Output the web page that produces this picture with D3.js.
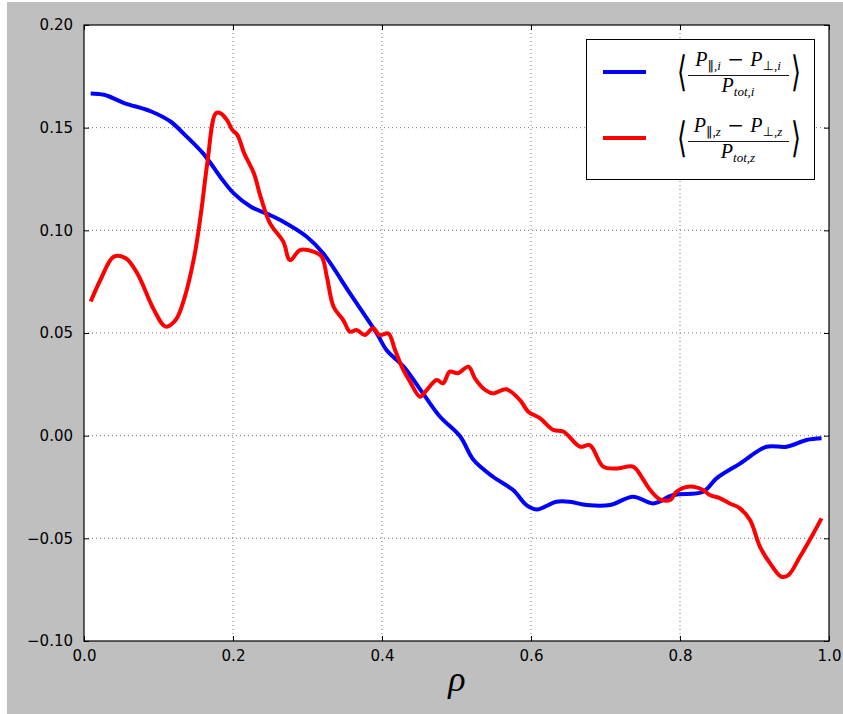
<!DOCTYPE html>
<html>
<head>
<meta charset="utf-8">
<script src="https://cdn.jsdelivr.net/npm/d3@7"></script>
<style>
  html, body { margin: 0; padding: 0; background: #ffffff; }
  svg { display: block; }
</style>
</head>
<body>
<div id="chart"></div>
<script>
// ion curve: <(P_par,i - P_perp,i) / P_tot,i>
const rhoIon = [0.009, 0.027, 0.054, 0.0895, 0.116, 0.134, 0.161, 0.183, 0.201, 0.224, 0.246,
  0.2675, 0.299, 0.321, 0.357, 0.393, 0.406, 0.429, 0.455, 0.478, 0.505, 0.523, 0.549,
  0.576, 0.594, 0.608, 0.634, 0.652, 0.675, 0.706, 0.737, 0.764, 0.791, 0.831, 0.849,
  0.881, 0.916, 0.943, 0.970, 0.990];
const valIon = [0.1667, 0.166, 0.162, 0.158, 0.153, 0.147, 0.137, 0.126, 0.118, 0.1115, 0.108,
  0.1042, 0.0969, 0.0888, 0.0693, 0.0498, 0.0417, 0.0336, 0.0206, 0.0092, -0.0004, -0.0119, -0.020,
  -0.0265, -0.0338, -0.0359, -0.0322, -0.0322, -0.0338, -0.0338, -0.0297, -0.033, -0.0289, -0.0273, -0.0208,
  -0.0135, -0.0054, -0.0054, -0.0021, -0.0013];

// impurity curve: <(P_par,z - P_perp,z) / P_tot,z>
const rhoImp = [0.009, 0.022, 0.040, 0.056, 0.0716, 0.094, 0.1096, 0.123, 0.134, 0.148, 0.157,
  0.1655, 0.177, 0.1835, 0.192, 0.199, 0.206, 0.215, 0.228, 0.237, 0.2497, 0.2675, 0.2765,
  0.290, 0.308, 0.319, 0.326, 0.335, 0.348, 0.357, 0.366, 0.377, 0.388, 0.397, 0.4085,
  0.4175, 0.4286, 0.4376, 0.451, 0.460, 0.4734, 0.482, 0.491, 0.502, 0.516, 0.5248, 0.536,
  0.549, 0.567, 0.585, 0.5964, 0.612, 0.630, 0.6434, 0.666, 0.679, 0.697, 0.715, 0.737,
  0.751, 0.760, 0.773, 0.787, 0.7955, 0.8134, 0.831, 0.840, 0.854, 0.867, 0.8805, 0.894,
  0.9074, 0.921, 0.936, 0.9455, 0.961, 0.979, 0.990];
const valImp = [0.0653, 0.0758, 0.0872, 0.0864, 0.079, 0.0612, 0.0531, 0.0563, 0.066, 0.0872, 0.1083,
  0.1326, 0.157, 0.157, 0.1537, 0.1489, 0.1464, 0.1375, 0.1278, 0.1164, 0.1034, 0.0945, 0.0855,
  0.0904, 0.0896, 0.0872, 0.0774, 0.0628, 0.0563, 0.0506, 0.0515, 0.049, 0.0523, 0.049, 0.0498,
  0.0417, 0.032, 0.0263, 0.019, 0.0222, 0.0271, 0.0255, 0.0312, 0.0304, 0.0336, 0.0279, 0.023,
  0.0206, 0.0226, 0.0174, 0.0117, 0.0085, 0.0028, 0.002, -0.0054, -0.0046, -0.0151, -0.016, -0.0151,
  -0.0216, -0.0265, -0.031, -0.0313, -0.0273, -0.0248, -0.0265, -0.0289, -0.0305, -0.033, -0.0354, -0.0411,
  -0.0541, -0.0622, -0.0687, -0.0679, -0.0590, -0.0476, -0.0403];

const xTicks = [0.0, 0.2, 0.4, 0.6, 0.8, 1.0];
const yTicks = [-0.10, -0.05, 0.00, 0.05, 0.10, 0.15, 0.20];

const W = 843, H = 714;
const margin = {left: 84, right: 14, top: 25, bottom: 73};

const svg = d3.select('#chart').append('svg')
    .attr('width', W)
    .attr('height', H);

// figure background (matplotlib classic grey)
svg.append('rect')
    .attr('x', 7).attr('y', 2)
    .attr('width', W - 7).attr('height', H - 2)
    .attr('fill', '#bfbfbf');

const x = d3.scaleLinear().domain([0, 1]).range([margin.left, W - margin.right]);
const y = d3.scaleLinear().domain([-0.10, 0.20]).range([H - margin.bottom, margin.top]);

svg.append('rect')
    .attr('x', x(0)).attr('y', y(0.20))
    .attr('width', x(1) - x(0)).attr('height', y(-0.10) - y(0.20))
    .attr('fill', '#ffffff');

// grid
const grid = svg.append('g').attr('class', 'grid');
grid.selectAll('line.gx')
    .data(xTicks.slice(1, -1))
    .enter().append('line')
    .attr('x1', d => x(d)).attr('x2', d => x(d))
    .attr('y1', y(0.20)).attr('y2', y(-0.10))
    .attr('stroke', '#555').attr('stroke-width', 0.8)
    .attr('stroke-dasharray', '1,3');
grid.selectAll('line.gy')
    .data(yTicks.slice(1, -1))
    .enter().append('line')
    .attr('y1', d => y(d)).attr('y2', d => y(d))
    .attr('x1', x(0)).attr('x2', x(1))
    .attr('stroke', '#555').attr('stroke-width', 0.8)
    .attr('stroke-dasharray', '1,3');

// lines
const line = d3.line()
    .x(d => x(d[0]))
    .y(d => y(d[1]))
    .curve(d3.curveCatmullRom.alpha(0.5));

svg.append('path')
    .attr('d', line(d3.zip(rhoIon, valIon)))
    .attr('fill', 'none')
    .attr('stroke', '#0000ff')
    .attr('stroke-width', 4)
    .attr('stroke-linejoin', 'round');

svg.append('path')
    .attr('d', line(d3.zip(rhoImp, valImp)))
    .attr('fill', 'none')
    .attr('stroke', '#ff0000')
    .attr('stroke-width', 4)
    .attr('stroke-linejoin', 'round');

// axes: ticks inside, on all four sides
const fmtY = d => d3.format('.2f')(d).replace('-', '\u2212');
const fmtX = d3.format('.1f');

const axB = svg.append('g')
    .attr('transform', 'translate(0,' + y(-0.10) + ')')
    .call(d3.axisBottom(x).tickValues(xTicks).tickFormat(fmtX).tickSizeInner(-5).tickSizeOuter(0).tickPadding(9));
const axT = svg.append('g')
    .attr('transform', 'translate(0,' + y(0.20) + ')')
    .call(d3.axisTop(x).tickValues(xTicks).tickFormat('').tickSizeInner(-5).tickSizeOuter(0));
const axL = svg.append('g')
    .attr('transform', 'translate(' + x(0) + ',0)')
    .call(d3.axisLeft(y).tickValues(yTicks).tickFormat(fmtY).tickSizeInner(-5).tickSizeOuter(0).tickPadding(11));
const axR = svg.append('g')
    .attr('transform', 'translate(' + x(1) + ',0)')
    .call(d3.axisRight(y).tickValues(yTicks).tickFormat('').tickSizeInner(-5).tickSizeOuter(0));

[axB, axT, axL, axR].forEach(a => {
    a.select('.domain').remove();
    a.selectAll('line').attr('stroke', '#000');
    a.selectAll('text')
        .attr('fill', '#000')
        .style('font-family', 'DejaVu Sans')
        .style('font-size', '15px');
});

// frame
svg.append('rect')
    .attr('x', x(0)).attr('y', y(0.20))
    .attr('width', x(1) - x(0)).attr('height', y(-0.10) - y(0.20))
    .attr('fill', 'none')
    .attr('stroke', '#000')
    .attr('stroke-width', 1.2);

// x label
svg.append('text')
    .attr('x', 457).attr('y', 691)
    .attr('text-anchor', 'middle')
    .style('font-family', 'Liberation Serif')
    .style('font-style', 'italic')
    .style('font-size', '36px')
    .text('\u03c1');

// legend
const legend = svg.append('g');
legend.append('rect')
    .attr('x', 586.5).attr('y', 39.5)
    .attr('width', 228).attr('height', 140)
    .attr('fill', '#fff')
    .attr('stroke', '#000')
    .attr('stroke-width', 1);

const entries = [
    {color: '#0000ff', sub: 'i', cy: 72},
    {color: '#ff0000', sub: 'z', cy: 138}
];

entries.forEach(e => {
    legend.append('line')
        .attr('x1', 603).attr('x2', 646)
        .attr('y1', e.cy).attr('y2', e.cy)
        .attr('stroke', e.color)
        .attr('stroke-width', 4);

    const g = legend.append('g')
        .style('font-family', 'Liberation Serif')
        .style('font-style', 'italic')
        .attr('fill', '#000');

    // numerator
    const num = g.append('text')
        .attr('x', 738).attr('y', e.cy - 6)
        .attr('text-anchor', 'middle')
        .style('font-size', '20px');
    num.append('tspan').text('P');
    num.append('tspan').attr('dy', 4).style('font-size', '13px').style('font-style', 'normal')
        .style('font-family', 'DejaVu Sans').text('\u2016');
    num.append('tspan').style('font-size', '13px').text(',' + e.sub);
    num.append('tspan').attr('dy', -4).style('font-style', 'normal')
        .style('font-family', 'DejaVu Sans').text(' \u2212 ');
    num.append('tspan').text('P');
    num.append('tspan').attr('dy', 4).style('font-size', '13px').style('font-style', 'normal')
        .style('font-family', 'DejaVu Sans').text('\u22a5');
    num.append('tspan').style('font-size', '13px').text(',' + e.sub);

    // fraction bar
    g.append('line')
        .attr('x1', 688).attr('x2', 789)
        .attr('y1', e.cy + 3.5).attr('y2', e.cy + 3.5)
        .attr('stroke', '#000').attr('stroke-width', 0.9);

    // denominator
    const den = g.append('text')
        .attr('x', 738).attr('y', e.cy + 20)
        .attr('text-anchor', 'middle')
        .style('font-size', '20px');
    den.append('tspan').text('P');
    den.append('tspan').attr('dy', 4).style('font-size', '13px').text('tot,' + e.sub);

    // angle brackets
    g.append('text')
        .attr('transform', 'translate(682,' + (e.cy + 14) + ') scale(0.8,1.3)')
        .attr('text-anchor', 'middle')
        .style('font-family', 'DejaVu Sans')
        .style('font-style', 'normal')
        .style('font-size', '32px')
        .text('\u27e8');
    g.append('text')
        .attr('transform', 'translate(796,' + (e.cy + 14) + ') scale(0.8,1.3)')
        .attr('text-anchor', 'middle')
        .style('font-family', 'DejaVu Sans')
        .style('font-style', 'normal')
        .style('font-size', '32px')
        .text('\u27e9');
});
</script>
</body>
</html>
